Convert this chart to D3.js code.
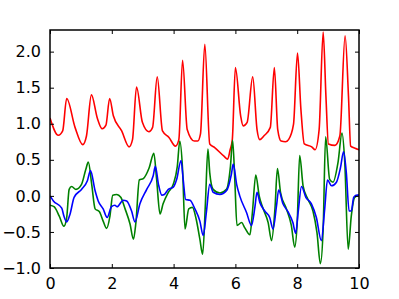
<!DOCTYPE html>
<html>
<head>
<meta charset="utf-8">
<script src="https://cdn.jsdelivr.net/npm/d3@7"></script>
<style>
  body { margin: 0; background: #fff; }
  text { font-family: "DejaVu Sans", sans-serif; }
</style>
</head>
<body>
<div class="graph"></div>
<script>
// values
const redX = [0, 0.27, 0.41, 0.54, 0.81, 1.06, 1.18, 1.34, 1.53, 1.69, 1.81, 1.93, 2.05, 2.32, 2.56, 2.67, 2.80, 2.99, 3.20, 3.32, 3.47, 3.64, 3.85, 4.06, 4.17, 4.29, 4.44, 4.67, 4.78, 4.87, 5.01, 5.17, 5.33, 5.63, 5.75, 5.83, 5.90, 6.00, 6.17, 6.25, 6.38, 6.56, 6.70, 6.79, 6.92, 7.13, 7.26, 7.37, 7.48, 7.62, 7.72, 7.88, 8.01, 8.12, 8.23, 8.47, 8.58, 8.71, 8.84, 8.93, 9.01, 9.22, 9.38, 9.55, 9.66, 9.73, 9.87, 10];
const redY = [1.08, 0.84, 0.90, 1.35, 0.95, 0.71, 0.83, 1.40, 1.08, 0.93, 0.98, 1.35, 1.11, 0.90, 0.68, 0.78, 1.51, 1.02, 0.89, 0.95, 1.65, 0.90, 0.81, 0.69, 0.78, 1.88, 0.92, 0.76, 0.76, 0.86, 2.10, 0.72, 0.67, 0.55, 0.51, 0.64, 0.78, 1.78, 1.11, 0.97, 1.02, 1.65, 0.92, 0.78, 0.83, 0.95, 1.78, 0.92, 0.76, 0.75, 0.78, 0.99, 1.98, 1.20, 0.72, 0.68, 0.64, 0.92, 2.27, 1.38, 0.72, 0.70, 0.83, 2.22, 1.38, 0.69, 0.66, 0.64];

const greenX = [0, 0.13, 0.30, 0.45, 0.54, 0.62, 0.70, 0.84, 1.02, 1.16, 1.24, 1.35, 1.46, 1.60, 1.72, 1.83, 1.94, 2.03, 2.16, 2.29, 2.43, 2.59, 2.70, 2.78, 2.89, 3.02, 3.21, 3.36, 3.45, 3.56, 3.66, 3.83, 3.99, 4.12, 4.20, 4.29, 4.37, 4.49, 4.61, 4.73, 4.85, 4.94, 5.03, 5.11, 5.17, 5.28, 5.50, 5.71, 5.84, 5.91, 5.98, 6.05, 6.20, 6.30, 6.47, 6.55, 6.66, 6.77, 6.90, 7.06, 7.17, 7.28, 7.36, 7.46, 7.65, 7.81, 7.92, 8.00, 8.08, 8.19, 8.35, 8.51, 8.64, 8.75, 8.84, 8.92, 9.05, 9.16, 9.32, 9.45, 9.54, 9.65, 9.75, 9.86, 10];
const greenY = [-0.13, -0.15, -0.28, -0.42, -0.30, 0.09, 0.13, 0.09, 0.16, 0.37, 0.47, 0.16, -0.18, -0.22, -0.35, -0.45, -0.28, 0.01, 0.02, -0.02, -0.18, -0.39, -0.60, -0.37, 0.22, 0.24, 0.39, 0.59, 0.23, -0.25, -0.11, 0.05, 0.16, 0.41, 0.76, 0.37, -0.46, -0.18, -0.16, -0.32, -0.60, -0.81, -0.10, 0.65, 0.32, 0.09, 0.04, 0.09, 0.41, 0.77, 0.23, -0.41, -0.37, -0.44, -0.54, -0.23, 0.29, 0.00, -0.18, -0.37, -0.62, -0.18, 0.38, 0.05, -0.18, -0.41, -0.71, -0.37, 0.56, 0.14, -0.05, -0.21, -0.51, -0.94, -0.46, 0.82, 0.23, 0.19, 0.46, 0.87, 0.46, -0.74, -0.28, -0.02, 0.01];

const blueX = [0, 0.11, 0.38, 0.45, 0.54, 0.65, 0.78, 1.02, 1.21, 1.31, 1.46, 1.56, 1.72, 1.85, 1.99, 2.10, 2.17, 2.37, 2.48, 2.64, 2.75, 2.91, 3.13, 3.34, 3.41, 3.51, 3.62, 3.70, 3.83, 3.99, 4.10, 4.24, 4.31, 4.39, 4.53, 4.69, 4.85, 4.96, 5.06, 5.17, 5.28, 5.50, 5.71, 5.87, 5.93, 6.04, 6.14, 6.36, 6.52, 6.63, 6.70, 6.79, 6.95, 7.11, 7.22, 7.33, 7.40, 7.54, 7.70, 7.86, 7.95, 8.03, 8.14, 8.28, 8.46, 8.62, 8.78, 8.89, 8.98, 9.11, 9.27, 9.40, 9.50, 9.59, 9.68, 9.75, 9.83, 9.94, 10];
const blueY = [0.00, -0.07, -0.17, -0.28, -0.36, -0.25, -0.02, 0.09, 0.21, 0.35, 0.07, -0.07, -0.18, -0.30, -0.15, -0.13, -0.15, -0.06, -0.07, -0.21, -0.36, -0.11, 0.09, 0.28, 0.41, 0.16, 0.01, 0.02, 0.09, 0.12, 0.23, 0.49, 0.23, -0.05, -0.06, -0.18, -0.35, -0.55, -0.23, 0.16, 0.05, 0.02, 0.07, 0.30, 0.44, 0.16, 0.00, -0.23, -0.41, -0.16, 0.05, -0.09, -0.21, -0.30, -0.46, -0.14, 0.08, -0.11, -0.22, -0.37, -0.52, -0.23, 0.13, -0.02, -0.11, -0.30, -0.62, -0.18, 0.22, 0.14, 0.19, 0.39, 0.61, 0.32, -0.21, -0.21, -0.02, 0.01, 0.01];

const xTicks = [0, 2, 4, 6, 8, 10];
const yTicks = [-1.0, -0.5, 0.0, 0.5, 1.0, 1.5, 2.0];

const W = 399, H = 299;
const margin = {top: 30, right: 40, bottom: 31, left: 50};
const width = W - margin.left - margin.right,
      height = H - margin.top - margin.bottom;

const svg = d3.select(".graph")
  .append("svg")
    .attr("width", W)
    .attr("height", H)
  .append("g")
    .attr("transform", "translate(" + margin.left + "," + margin.top + ")");

const x = d3.scaleLinear().domain([0, 10]).range([0, width]);
const y = d3.scaleLinear().domain([-1, 2.3]).range([height, 0]);

const fmt = d => d3.format(".1f")(d).replace("-", "\u2212");

// series
const series = [
  {xs: redX, ys: redY, color: "#ff0000"},
  {xs: greenX, ys: greenY, color: "#008000"},
  {xs: blueX, ys: blueY, color: "#0000ff"},
];

const line = d3.line()
  .x(d => x(d[0]))
  .y(d => y(d[1]))
  .curve(d3.curveMonotoneX);

svg.append("clipPath").attr("id", "clip")
  .append("rect").attr("width", width).attr("height", height);

series.forEach(s => {
  svg.append("path")
    .datum(d3.zip(s.xs, s.ys))
    .attr("clip-path", "url(#clip)")
    .attr("fill", "none")
    .attr("stroke", s.color)
    .attr("stroke-width", 1.6)
    .attr("stroke-linejoin", "round")
    .attr("d", line);
});

// axes, ticks pointing inward on all four sides
function styleAxis(g) {
  g.select(".domain").remove();
  g.selectAll("line").attr("stroke", "#000").attr("stroke-width", 1);
  g.selectAll("text").attr("font-size", 16).attr("fill", "#000")
    .attr("font-family", "DejaVu Sans, sans-serif");
}

svg.append("g")
  .attr("transform", "translate(0," + height + ")")
  .call(d3.axisBottom(x).tickValues(xTicks).tickSizeInner(-4).tickSizeOuter(0).tickPadding(10).tickFormat(d3.format("d")))
  .call(styleAxis);

svg.append("g")
  .call(d3.axisTop(x).tickValues(xTicks).tickSizeInner(-4).tickSizeOuter(0).tickFormat(""))
  .call(styleAxis);

svg.append("g")
  .call(d3.axisLeft(y).tickValues(yTicks).tickSizeInner(-4).tickSizeOuter(0).tickPadding(9).tickFormat(fmt))
  .call(styleAxis);

svg.append("g")
  .attr("transform", "translate(" + width + ",0)")
  .call(d3.axisRight(y).tickValues(yTicks).tickSizeInner(-4).tickSizeOuter(0).tickFormat(""))
  .call(styleAxis);

svg.append("rect")
  .attr("x", 0).attr("y", 0)
  .attr("width", width).attr("height", height)
  .attr("fill", "none")
  .attr("stroke", "#000")
  .attr("stroke-width", 1.5);
</script>
</body>
</html>
